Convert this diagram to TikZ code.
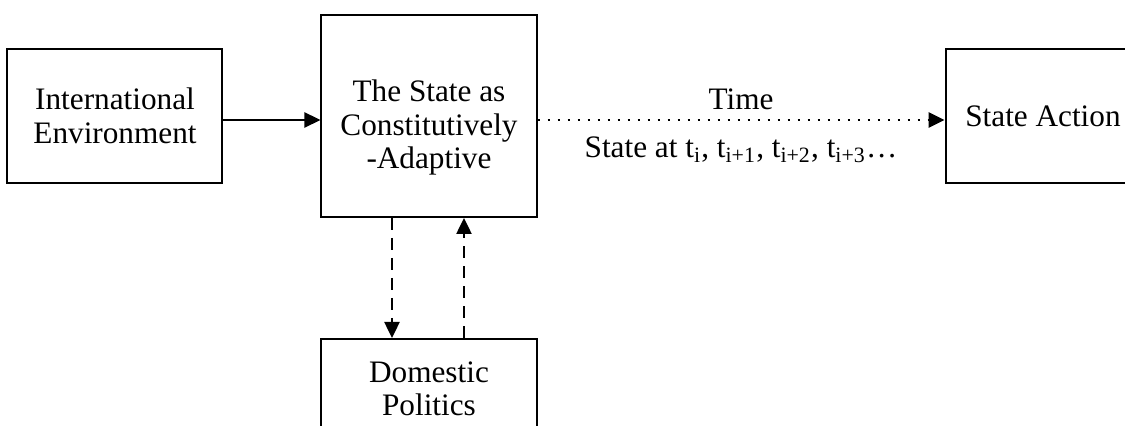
\documentclass[tikz,border=0pt]{standalone}
\usepackage{fontspec}
\setmainfont{Liberation Serif}
\usetikzlibrary{arrows.meta,positioning}
\tikzset{%
  >={Triangle[width=6pt,length=6.4pt]},
  % Specifications for style of nodes:
         base/.style = {rectangle, draw=black, line width=0.8pt,
                        minimum width=86pt, minimum height=53.6pt,
                        text centered},
        state/.style = {base, minimum height=80.8pt},
       action/.style = {base, minimum width=78pt},
     domestic/.style = {base, minimum height=40pt},
  % Specifications for style of connectors:
     feedback/.style = {->, line width=1pt, dash pattern=on 4.8pt off 3.2pt},
     timeline/.style = {->, line width=1.1pt, dash pattern=on 1.1pt off 2.9pt}
}

\begin{document}
\begin{tikzpicture}[every node/.style={align=center, font=\fontsize{12.5}{13.4}\selectfont}]
  \useasboundingbox (-171.6pt,-124pt) rectangle (278.4pt,46.4pt);

  \node (adapt) [state]                          {\rule{0pt}{18pt}The State as\\Constitutively\\-Adaptive};
  \node (intl)  [base, left=38.8pt of adapt]     {International\\Environment};
  \node (act)   [action, right=162.8pt of adapt] {State Action};
  \node (dom)   [domestic, below=48pt of adapt]  {Domestic\\Politics};

    \draw[->, line width=0.9pt] ([yshift=-1.6pt]intl.east) -- ([yshift=-1.6pt]adapt.west);
    \draw[timeline] ([yshift=-1.6pt]adapt.east) -- node[above=0pt]{Time}
      node[below=3pt]{State at t\textsubscript{i}, t\textsubscript{i+1}, t\textsubscript{i+2}, t\textsubscript{i+3}\dots} ([yshift=-1.6pt]act.west);
    \draw[feedback] ([xshift=-14.8pt]adapt.south) -- ([xshift=-14.8pt]dom.north);
    \draw[feedback] ([xshift=14pt]dom.north) -- ([xshift=14pt]adapt.south);
\end{tikzpicture}
\end{document}
